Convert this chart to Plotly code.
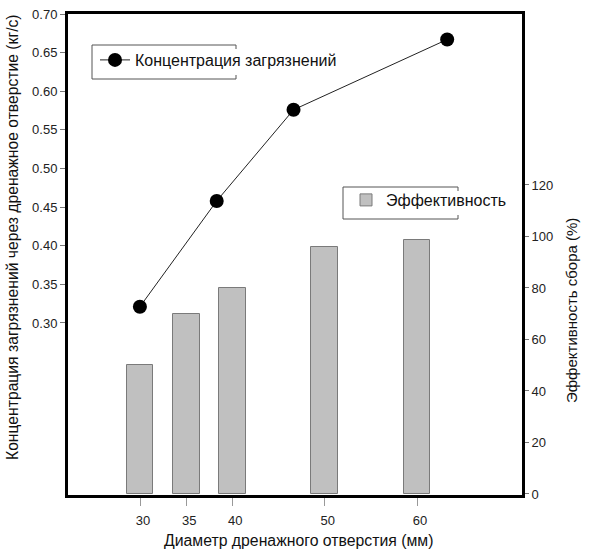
import plotly.graph_objects as go

# Data
diam_bars = [30, 35, 40, 50, 60]
efficiency = [50, 70, 80, 96, 98.5]
diam_line = [30, 35, 40, 50]
concentration = [0.321, 0.458, 0.576, 0.667]

left_ticks = [0.30, 0.35, 0.40, 0.45, 0.50, 0.55, 0.60, 0.65, 0.70]
right_ticks = [0, 20, 40, 60, 80, 100, 120]
x_ticks = [30, 35, 40, 50, 60]

FONT = "Liberation Sans, Arial, sans-serif"

W, H = 600, 550
L, R, T, B = 68, 78, 14, 55
PW, PH = W - L - R, H - T - B


def px(x):
    return (x - L) / PW


def py(y):
    return (H - B - y) / PH


fig = go.Figure()

fig.add_trace(go.Scatter(
    x=diam_line, y=concentration, xaxis="x", yaxis="y",
    mode="lines+markers", name="Концентрация загрязнений",
    line=dict(color="#222222", width=1),
    marker=dict(color="black", size=14),
    legend="legend", showlegend=True,
))

fig.add_trace(go.Bar(
    x=diam_bars, y=efficiency, xaxis="x2", yaxis="y2",
    width=2.9, name="Эффективность",
    marker=dict(color="#c0c0c0", line=dict(color="#7a7a7a", width=1)),
    legend="legend2", showlegend=True,
))


def box_path(x0, y0, x1, y1, stub=4):
    # left, top, bottom edges of the legend frame, with short stubs on the right
    X0, X1 = px(x0), px(x1)
    Y0, Y1 = py(y0), py(y1)
    s = stub / PH
    return (f"M {X1},{Y0 - s} L {X1},{Y0} L {X0},{Y0} L {X0},{Y1} "
            f"L {X1},{Y1} L {X1},{Y1 + s}")


shapes = [
    dict(type="path", xref="paper", yref="paper",
         path=box_path(92, 45, 236, 79), line=dict(color="#555", width=1), layer="below"),
    dict(type="path", xref="paper", yref="paper",
         path=box_path(343, 187, 458, 219), line=dict(color="#555", width=1), layer="below"),
]

fig.update_layout(
    width=W, height=H,
    margin=dict(l=L, r=R, t=T, b=B),
    paper_bgcolor="white", plot_bgcolor="white",
    font=dict(family=FONT, size=13, color="#222"),
    bargap=0,
    showlegend=True,
    xaxis=dict(
        range=[25.32, 54.87], visible=False, showgrid=False, zeroline=False,
        automargin=False,
    ),
    yaxis=dict(
        range=[0.0773, 0.70], tickvals=left_ticks, tickformat=".2f",
        showline=True, linewidth=3, linecolor="black",
        ticks="outside", ticklen=5, tickcolor="#777", tickwidth=1,
        showgrid=False, zeroline=False, anchor="x2", automargin=False,
        tickfont=dict(size=13),
    ),
    xaxis2=dict(
        range=[22.2, 71.37], tickvals=x_ticks, overlaying="x", side="bottom",
        anchor="y2", automargin=False,
        showline=True, linewidth=3, linecolor="black", mirror=True,
        ticks="outside", ticklen=8, tickcolor="#999", tickwidth=1,
        ticklabelstandoff=3, ticklabelshift=3,
        showgrid=False, zeroline=False,
        tickfont=dict(size=13),
    ),
    yaxis2=dict(
        range=[-0.4, 186.4], tickvals=right_ticks, overlaying="y", side="right",
        anchor="x2", automargin=False,
        showline=True, linewidth=3, linecolor="black",
        ticks="outside", ticklen=4, tickcolor="#777", tickwidth=1,
        showgrid=False, zeroline=False,
        tickfont=dict(size=13),
    ),
    legend=dict(
        x=px(95), y=py(43), xanchor="left", yanchor="top",
        bgcolor="rgba(0,0,0,0)", borderwidth=0,
        font=dict(size=16, family=FONT, color="#111"),
    ),
    legend2=dict(
        x=px(346), y=py(183), xanchor="left", yanchor="top",
        bgcolor="rgba(0,0,0,0)", borderwidth=0,
        font=dict(size=16, family=FONT, color="#111"),
    ),
    shapes=shapes,
    annotations=[
        dict(text="Концентрация загрязнений через дренажное отверстие (кг/с)",
             xref="paper", yref="paper", x=px(13), y=py(237),
             xanchor="center", yanchor="middle",
             textangle=-90, showarrow=False,
             font=dict(size=15.7, family=FONT, color="#111")),
        dict(text="Эффективность сбора (%)",
             xref="paper", yref="paper", x=px(571), y=py(311),
             xanchor="center", yanchor="middle",
             textangle=-90, showarrow=False,
             font=dict(size=15, family=FONT, color="#111")),
        dict(text="Диаметр дренажного отверстия (мм)",
             xref="paper", yref="paper", x=px(298), y=py(540),
             xanchor="center", yanchor="middle", showarrow=False,
             font=dict(size=15.8, family=FONT, color="#111")),
    ],
)

fig.write_html("out.html")
